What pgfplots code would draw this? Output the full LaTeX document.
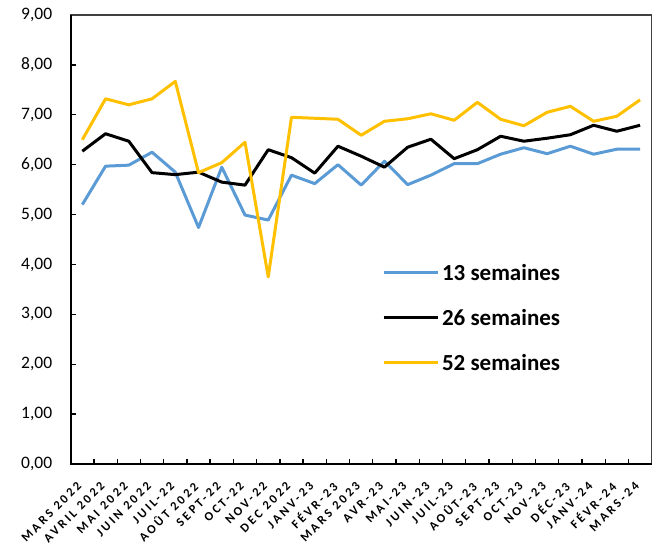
\documentclass[border=0pt]{standalone}
\usepackage{fontspec}
\setmainfont{Carlito}
\newfontfamily\xlabfont[LetterSpace=22]{Carlito}
\usepackage{pgfplots}
\pgfplotsset{compat=1.18}
\definecolor{cblue}{HTML}{5B9BD5}
\definecolor{cyel}{HTML}{FFC000}
\begin{document}
\begin{tikzpicture}
\path[use as bounding box] (-70.7bp,-85bp) rectangle (586.3bp,464bp);
\begin{axis}[
  at={(0,0)}, anchor=south west,
  scale only axis, width=581bp, height=449bp,
  xmin=-0.5, xmax=24.5, ymin=0, ymax=9,
  ytick={0,1,...,9},
  xtick={0,...,24},
  xticklabels={{MARS 2022},{AVRIL 2022},{MAI 2022},{JUIN 2022},{JUIL-22},{AOÛT 2022},{SEPT-22},{OCT-22},{NOV-22},{DEC 2022},{JANV-23},{FÉVR-23},{MARS 2023},{AVR-23},{MAI-23},{JUIN-23},{JUIL-23},{AOÛT-23},{SEPT-23},{OCT-23},{NOV-23},{DÉC-23},{JANV-24},{FÉVR-24},{MARS-24}},
  minor xtick={0.5,1.5,...,23.5},
  major x tick style={draw=none},
  minor tick length=5bp, major tick length=5bp,
  tick style={black, line width=1.3bp},
  xtick pos=bottom, ytick pos=left, tick align=inside,
  axis line style={draw=black!75, line width=1.1bp},
  /pgf/number format/assume math mode=true,
  yticklabel style={font=\fontsize{17.5bp}{20bp}\selectfont, /pgf/number format/.cd, fixed, fixed zerofill, precision=2, use comma},
  yticklabel shift=15bp,
  xticklabel style={font=\fontsize{12.5bp}{15bp}\xlabfont\bfseries, xshift=-3bp, yshift=-20bp, rotate=45, anchor=east, inner sep=0pt},
  legend style={draw=none, fill=none, at={(0.5355,0.327)}, anchor=west, inner sep=0pt,
    font=\fontsize{23bp}{26bp}\selectfont\bfseries, row sep=29bp,
    nodes={inner sep=0pt, text height=16bp, text depth=0bp}},
  legend cell align=left,
  legend image code/.code={\draw[#1] (0bp,0bp) -- (54bp,0bp);},
  /tikz/every even column/.append style={column sep=0bp},
  /tikz/every odd column/.append style={column sep=3bp},
  clip=false,
]
\addplot[cblue, line width=3bp, line join=round] coordinates {
(0,5.20)(1,5.97)(2,5.99)(3,6.25)(4,5.85)(5,4.74)(6,5.95)(7,4.99)(8,4.89)(9,5.79)(10,5.62)(11,6.00)(12,5.59)(13,6.07)(14,5.60)(15,5.79)(16,6.02)(17,6.02)(18,6.21)(19,6.34)(20,6.22)(21,6.37)(22,6.21)(23,6.31)(24,6.31)};
\addlegendentry{13 semaines}
\addplot[black, line width=3bp, line join=round] coordinates {
(0,6.27)(1,6.62)(2,6.47)(3,5.84)(4,5.80)(5,5.85)(6,5.65)(7,5.59)(8,6.30)(9,6.14)(10,5.83)(11,6.37)(12,6.17)(13,5.95)(14,6.35)(15,6.51)(16,6.12)(17,6.30)(18,6.57)(19,6.47)(20,6.53)(21,6.60)(22,6.79)(23,6.67)(24,6.79)};
\addlegendentry{26 semaines}
\addplot[cyel, line width=3bp, line join=round] coordinates {
(0,6.50)(1,7.32)(2,7.20)(3,7.32)(4,7.67)(5,5.84)(6,6.04)(7,6.45)(8,3.75)(9,6.95)(10,6.93)(11,6.91)(12,6.59)(13,6.87)(14,6.92)(15,7.02)(16,6.89)(17,7.25)(18,6.91)(19,6.78)(20,7.05)(21,7.17)(22,6.87)(23,6.97)(24,7.30)};
\addlegendentry{52 semaines}
\draw[black, line width=2.2bp] (rel axis cs:0,1) -- (rel axis cs:0,0) -- (rel axis cs:1,0);
\end{axis}
\end{tikzpicture}
\end{document}
